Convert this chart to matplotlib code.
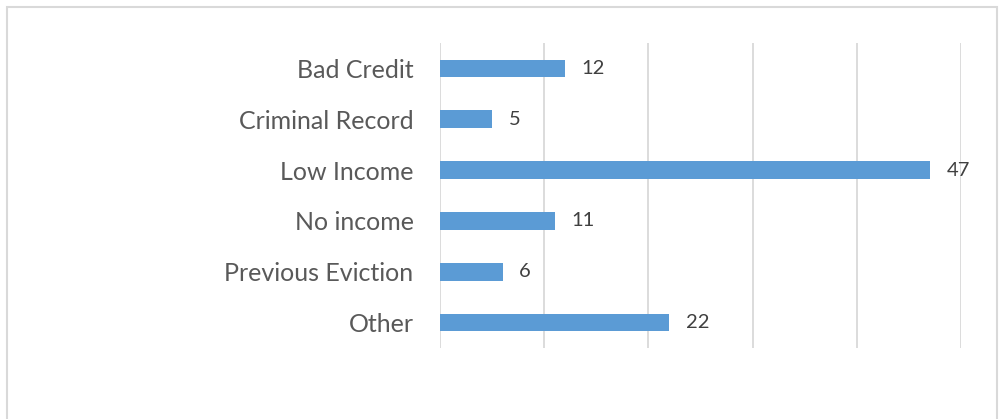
import matplotlib
matplotlib.use('Agg')
import matplotlib.pyplot as plt
from matplotlib.patches import Rectangle

# reasons given, count of responses
categories = ['Bad Credit', 'Criminal Record', 'Low Income', 'No income',
              'Previous Eviction', 'Other']
counts = [12, 5, 47, 11, 6, 22]
ticks = [0, 10, 20, 30, 40, 50]

plt.rcParams['font.family'] = ['Lato', 'DejaVu Sans']

fig = plt.figure(figsize=(10.05, 4.19), dpi=100)
W, H = 1005, 419

# light grey frame around the chart area
fig.patches.append(Rectangle((7 / W, -0.05), 990 / W, 1.05 - 7 / H,
                             transform=fig.transFigure, fill=False,
                             edgecolor='#D9D9D9', linewidth=1.5))

ax = fig.add_axes([440 / W, 1 - 348 / H, 521 / W, 305 / H])
pos = list(range(len(categories)))
ax.barh(pos, counts, height=0.35, color='#5B9BD5', zorder=3)
for y, v in zip(pos, counts):
    ax.text(v + 1.6, y, str(v), va='center', ha='left', fontsize=14.5,
            color='#404040')

ax.set_xlim(0, 50)
ax.set_ylim(len(categories) - 0.5, -0.5)
ax.set_xticks(ticks)
ax.set_xticklabels([])
ax.set_yticks(pos)
ax.set_yticklabels(categories, fontsize=18, color='#595959')
ax.tick_params(length=0, pad=19)
ax.grid(axis='x', color='#D9D9D9', linewidth=1.3, zorder=0)
for s in ax.spines.values():
    s.set_visible(False)

plt.savefig('out.png', dpi=100)
